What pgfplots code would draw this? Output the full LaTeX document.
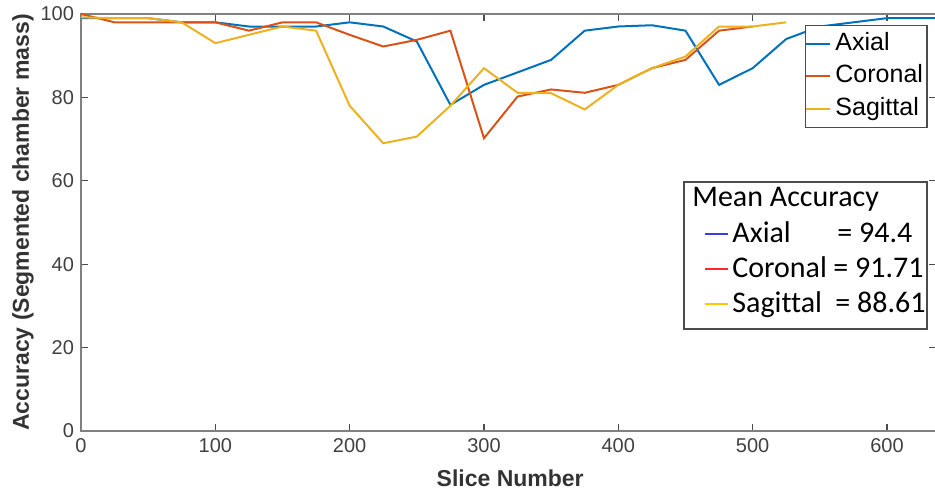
\documentclass[border=0pt]{standalone}
\usepackage{fontspec}
\setmainfont{Liberation Sans}
\newfontfamily\carlito[Ligatures={NoCommon}]{Carlito}
\usepackage{pgfplots}
\pgfplotsset{compat=1.18}
\definecolor{mblue}{rgb}{0,0.447,0.741}
\definecolor{mred}{rgb}{0.85,0.325,0.098}
\definecolor{myellow}{rgb}{0.929,0.694,0.125}
\definecolor{lblue}{RGB}{60,60,230}
\definecolor{lred}{RGB}{255,40,40}
\definecolor{lyellow}{RGB}{255,200,0}
\begin{document}
\begin{tikzpicture}
\begin{axis}[
  scale only axis, width=427.5pt, height=208.5pt,
  xmin=0, xmax=636.5, ymin=0, ymax=100,
  xtick={0,100,...,600}, ytick={0,20,...,100},
  tick align=inside, xtick pos=both, ytick pos=both,
  major tick length=3.5pt,
  axis line style={black!50, line width=0.6pt},
  tick style={black!70, line width=0.6pt},
  ticklabel style={font=\fontsize{10}{12}\selectfont, text=black!75},
  /pgf/number format/assume math mode=true,
  xlabel={Slice Number},
  ylabel={Accuracy (Segmented chamber mass)},
  label style={font=\bfseries\fontsize{11.5}{14}\selectfont, text=black!80},
  xlabel style={at={(axis description cs:0.502,-0.1343)}, anchor=base},
  ylabel style={at={(axis description cs:-0.0609,0.5)}, anchor=base},
  every axis plot/.append style={line width=1pt},
  legend style={at={(0.8466,0.9736)}, anchor=north west, draw=black!70, line width=0.6pt,
    font=\fontsize{12.5}{15}\selectfont, inner xsep=0pt, inner ysep=1pt,
    nodes={inner ysep=2.2pt, inner xsep=2pt, text height=9.2pt, text depth=2.7pt},
    cells={anchor=west}},
  legend image code/.code={\draw[#1, line width=1pt] (0pt,0pt) -- (12pt,0pt);},
]
\addplot[mblue] coordinates {
(0,99) (25,99) (50,99) (75,98) (100,98) (125,97) (150,97) (175,97) (200,98) (225,97)
(250,93.4) (275,78.2) (300,83) (325,86) (350,89) (375,96) (400,97) (425,97.3) (450,96)
(475,83) (500,87) (525,94) (550,97) (575,98) (600,99) (625,99) (650,99)};
\addlegendentry{Axial}
\addplot[mred] coordinates {
(0,100) (25,98) (50,98) (75,98) (100,98) (125,96) (150,98) (175,98) (200,95) (225,92.2)
(250,93.8) (275,96) (300,70.2) (325,80.2) (350,81.9) (375,81.1) (400,83) (425,87) (450,89)
(475,96) (500,97)};
\addlegendentry{Coronal}
\addplot[myellow] coordinates {
(0,99.2) (25,99) (50,99) (75,98) (100,93) (125,95) (150,97) (175,96) (200,78) (225,69)
(250,70.6) (275,78) (300,87) (325,81.1) (350,81) (375,77.1) (400,83) (425,87) (450,89.8)
(475,97) (500,97) (525,98)};
\addlegendentry{Sagittal}
\end{axis}
\begin{scope}[shift={(current axis.south west)}]
\draw[black!70, line width=0.6pt] (301.5pt,124.5pt) rectangle (423pt,51pt);
\begin{scope}[every node/.style={inner sep=0pt, anchor=base west, font=\carlito\fontsize{15}{18}\selectfont}]
\node at (305.5pt,112pt) {Mean Accuracy};
\node at (325.5pt,94pt) {Axial};
\node at (378pt,94pt) {= 94.4};
\node at (325.5pt,76.5pt) {Coronal};
\node at (376pt,76.5pt) {= 91.71};
\node at (325.5pt,59pt) {Sagittal};
\node at (377pt,59pt) {= 88.61};
\end{scope}
\draw[lblue, line width=0.8pt] (312pt,98.5pt) -- (323.5pt,98.5pt);
\draw[lred, line width=0.8pt] (312pt,81pt) -- (323.5pt,81pt);
\draw[lyellow, line width=0.8pt] (312pt,63.5pt) -- (323.5pt,63.5pt);
\end{scope}
\pgfresetboundingbox
\path[use as bounding box] ([xshift=-40.5pt,yshift=-30pt]current axis.south west) rectangle ([xshift=-0.5pt,yshift=7pt]current axis.north east);
\end{tikzpicture}
\end{document}
